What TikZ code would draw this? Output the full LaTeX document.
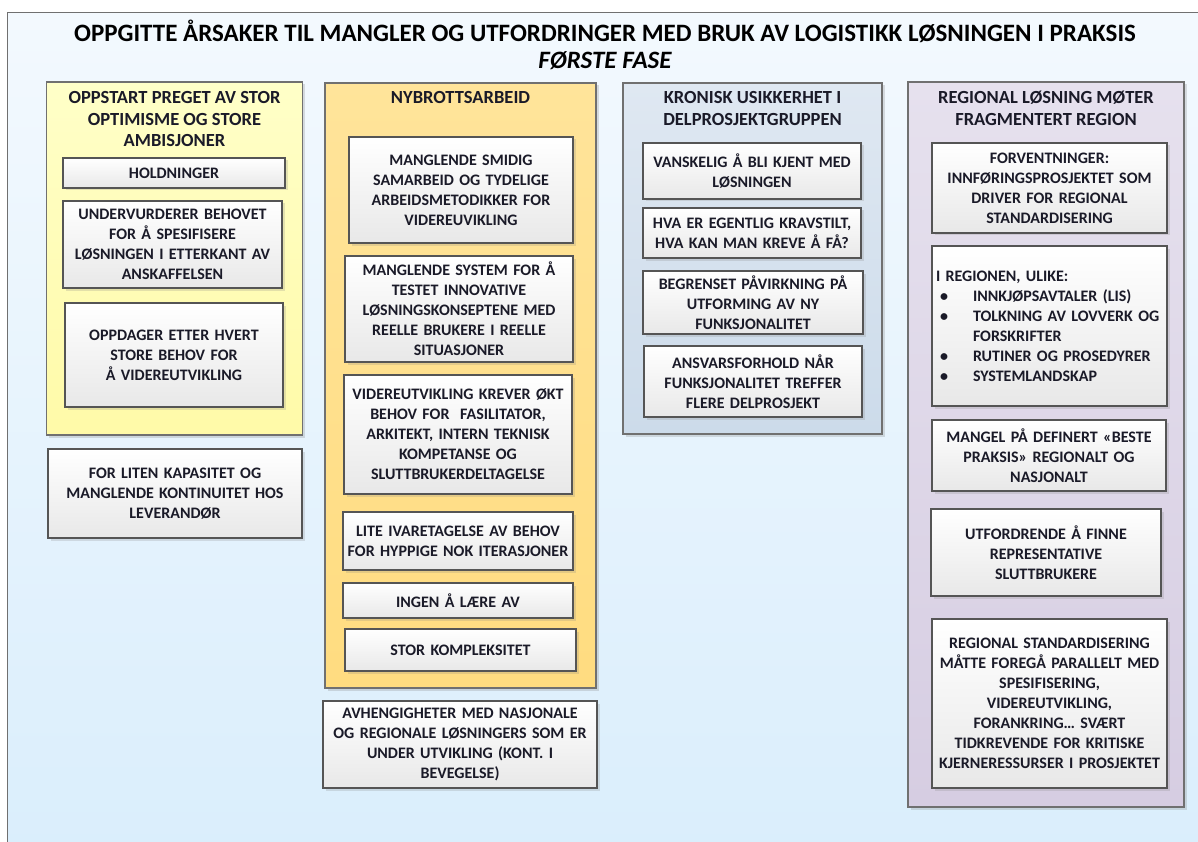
\documentclass[tikz,border=0pt]{standalone}
\usepackage{fontspec}
\setmainfont{Carlito}
\usetikzlibrary{shadows}
\definecolor{bgtop}{HTML}{F3F9FE}
\definecolor{bgbot}{HTML}{DAEEFC}
\definecolor{txt}{HTML}{1A1A28}
\definecolor{yelT}{HTML}{FFFFC8}
\definecolor{yelB}{HTML}{FFFAA8}
\definecolor{orT}{HTML}{FFE49A}
\definecolor{orB}{HTML}{FFDC80}
\definecolor{bluT}{HTML}{DFE8F2}
\definecolor{bluB}{HTML}{CCDBEA}
\definecolor{lavT}{HTML}{E6E1EE}
\definecolor{lavB}{HTML}{D6CDE2}
\definecolor{frame}{HTML}{707070}
\definecolor{ibord}{HTML}{555555}
\tikzset{
  boxfont/.style={font=\fontsize{16}{20}\selectfont\bfseries, text=txt},
  colbox/.style={draw=frame, line width=1.2pt, inner sep=0pt,
    drop shadow={opacity=0.25, shadow xshift=2.5pt, shadow yshift=-2.5pt}},
  ibox/.style={draw=ibord, line width=1.2pt, top color=white, bottom color=black!9,
    boxfont, align=center, inner sep=3pt,
    drop shadow={opacity=0.22, shadow xshift=2.5pt, shadow yshift=-2.5pt}},
  head/.style={font=\fontsize{18.5}{21.5}\selectfont\bfseries, text=txt, align=center, inner sep=0pt},
  titlefont/.style={font=\fontsize{25}{28}\selectfont\bfseries, text=black, inner sep=0pt},
}
\begin{document}
\begin{tikzpicture}[x=1pt,y=-1pt]
\useasboundingbox (0,0) rectangle (1198,842);
\fill[white] (0,0) rectangle (1198,842);
\shade[top color=bgtop, bottom color=bgbot, draw=frame, line width=1pt] (7.5,12.5) rectangle (1205,850);

% title
\node[titlefont] (title) at (605,31) {OPPGITTE ÅRSAKER TIL MANGLER OG UTFORDRINGER MED BRUK AV LOGISTIKK LØSNINGEN I PRAKSIS};
\node[titlefont, font=\fontsize{25}{28}\selectfont\bfseries\itshape] (phase) at (605,61) {FØRSTE FASE};

% column 1
\node[colbox, top color=yelT, bottom color=yelB, minimum width=256pt, minimum height=353pt] (c1) at (174.5,258.5) {};
\node[head] (c1h) at (174.5,119) {OPPSTART PREGET AV STOR\\OPTIMISME OG STORE\\AMBISJONER};
\node[ibox, minimum width=222pt, minimum height=30pt, text width=214pt] (h1) at (174,173) {HOLDNINGER};
\node[ibox, minimum width=219pt, minimum height=87pt, text width=213pt] (u1) at (172.5,244.5) {UNDERVURDERER BEHOVET\\FOR Å SPESIFISERE\\LØSNINGEN I ETTERKANT AV\\ANSKAFFELSEN};
\node[ibox, minimum width=218pt, minimum height=104pt, text width=212pt] (o1) at (174,355) {OPPDAGER ETTER HVERT\\STORE BEHOV FOR\\Å VIDEREUTVIKLING};
\node[ibox, minimum width=254pt, minimum height=89pt, text width=248pt] (f1) at (175,493.5) {FOR LITEN KAPASITET OG\\MANGLENDE KONTINUITET HOS\\LEVERANDØR};

% column 2
\node[colbox, top color=orT, bottom color=orB, minimum width=271pt, minimum height=605pt] (c2) at (460.5,385.5) {};
\node[head] (c2h) at (460.5,98) {NYBROTTSARBEID};
\node[ibox, minimum width=224pt, minimum height=106pt, text width=218pt] (m1) at (461,190) {MANGLENDE SMIDIG\\SAMARBEID OG TYDELIGE\\ARBEIDSMETODIKKER FOR\\VIDEREUVIKLING};
\node[ibox, minimum width=228pt, minimum height=106pt, text width=222pt] (m2) at (459,309) {MANGLENDE SYSTEM FOR Å\\TESTET INNOVATIVE\\LØSNINGSKONSEPTENE MED\\REELLE BRUKERE I REELLE\\SITUASJONER};
\node[ibox, minimum width=228pt, minimum height=119pt, text width=222pt] (v2) at (458,434.5) {VIDEREUTVIKLING KREVER ØKT\\BEHOV FOR \ FASILITATOR,\\ARKITEKT, INTERN TEKNISK\\KOMPETANSE OG\\SLUTTBRUKERDELTAGELSE};
\node[ibox, minimum width=230pt, minimum height=58pt, text width=224pt] (l2) at (458,541) {LITE IVARETAGELSE AV BEHOV\\FOR HYPPIGE NOK ITERASJONER};
\node[ibox, minimum width=230pt, minimum height=35pt, text width=224pt] (i2) at (458,600.5) {INGEN Å LÆRE AV};
\node[ibox, minimum width=231pt, minimum height=42pt, text width=225pt] (s2) at (460.5,650) {STOR KOMPLEKSITET};
\node[ibox, minimum width=274pt, minimum height=87pt, text width=268pt] (a2) at (460,744.5) {AVHENGIGHETER MED NASJONALE\\OG REGIONALE LØSNINGERS SOM ER\\UNDER UTVIKLING (KONT. I\\BEVEGELSE)};

% column 3
\node[colbox, top color=bluT, bottom color=bluB, minimum width=259pt, minimum height=351pt] (c3) at (752.5,258.5) {};
\node[head] (c3h) at (752.5,108.5) {KRONISK USIKKERHET I\\DELPROSJEKTGRUPPEN};
\node[ibox, minimum width=218pt, minimum height=56pt, text width=212pt] (k1) at (752,171) {VANSKELIG Å BLI KJENT MED\\LØSNINGEN};
\node[ibox, minimum width=218pt, minimum height=50pt, text width=212pt] (k2) at (752,233) {HVA ER EGENTLIG KRAVSTILT,\\HVA KAN MAN KREVE Å FÅ?};
\node[ibox, minimum width=220pt, minimum height=63pt, text width=214pt] (k3) at (753,302.5) {BEGRENSET PÅVIRKNING PÅ\\UTFORMING AV NY\\FUNKSJONALITET};
\node[ibox, minimum width=218pt, minimum height=71pt, text width=212pt] (k4) at (753,381.5) {ANSVARSFORHOLD NÅR\\FUNKSJONALITET TREFFER\\FLERE DELPROSJEKT};

% column 4
\node[colbox, top color=lavT, bottom color=lavB, minimum width=276pt, minimum height=725pt] (c4) at (1046,444.5) {};
\node[head] (c4h) at (1046,108.5) {REGIONAL LØSNING MØTER\\FRAGMENTERT REGION};
\node[ibox, minimum width=235pt, minimum height=90pt, text width=229pt] (r1) at (1049.5,188) {FORVENTNINGER:\\INNFØRINGSPROSJEKTET SOM\\DRIVER FOR REGIONAL\\STANDARDISERING};
\node[ibox, align=left, minimum width=235pt, minimum height=160pt, text width=227pt, inner xsep=4pt] (r2) at (1049.5,326) {I REGIONEN, ULIKE:\\
\makebox[37pt][l]{\hspace{4pt}•}INNKJØPSAVTALER (LIS)\\
\makebox[37pt][l]{\hspace{4pt}•}TOLKNING AV LOVVERK OG\\
\makebox[37pt][l]{}FORSKRIFTER\\
\makebox[37pt][l]{\hspace{4pt}•}RUTINER OG PROSEDYRER\\
\makebox[37pt][l]{\hspace{4pt}•}SYSTEMLANDSKAP};
\node[ibox, minimum width=234pt, minimum height=71pt, text width=228pt] (r3) at (1049,455.5) {MANGEL PÅ DEFINERT «BESTE\\PRAKSIS» REGIONALT OG\\NASJONALT};
\node[ibox, minimum width=230pt, minimum height=87pt, text width=224pt] (r4) at (1046,552.5) {UTFORDRENDE Å FINNE\\REPRESENTATIVE\\SLUTTBRUKERE};
\node[ibox, minimum width=235pt, minimum height=169pt, text width=229pt] (r5) at (1049.5,703.5) {REGIONAL STANDARDISERING\\MÅTTE FOREGÅ PARALLELT MED\\SPESIFISERING,\\VIDEREUTVIKLING,\\FORANKRING… SVÆRT\\TIDKREVENDE FOR KRITISKE\\KJERNERESSURSER I PROSJEKTET};
\end{tikzpicture}
\end{document}
